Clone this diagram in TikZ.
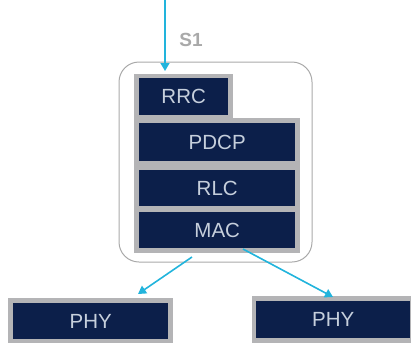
\documentclass[tikz,border=0pt]{standalone}
\usepackage{fontspec}
\setmainfont{Liberation Sans}
\usetikzlibrary{arrows.meta,calc}
\definecolor{navy}{HTML}{0C1F4A}
\definecolor{edgegrey}{HTML}{B4B4B6}
\definecolor{txt}{HTML}{C6CFDC}
\definecolor{cyanline}{HTML}{22B4DC}
\definecolor{boxline}{HTML}{A9A9A9}
\begin{document}
\begin{tikzpicture}[x=1pt,y=-1pt,
  layer/.style={fill=navy,text=txt,font=\fontsize{20.5}{20.5}\selectfont,inner sep=0pt,anchor=north west},
  backing/.style={fill=edgegrey},
  link/.style={draw=cyanline,line width=1.6pt,-{Triangle[length=8pt,width=9pt]}}]
\useasboundingbox (0,0) rectangle (411,343);
% outer rounded box
\draw[boxline,line width=1pt,rounded corners=20pt] (119,62) rectangle (312,262);
% grey backings
\fill[backing] (134,74) rectangle (233,119);
\fill[backing] (134,118) rectangle (300,253);
\fill[backing] (8,298) rectangle (173,343);
\fill[backing] (252,296) rectangle (411,343);
\node[layer,minimum width=89pt,minimum height=37pt] (rrc) at (139,78) {RRC};
\node[layer,minimum width=156pt,minimum height=38pt] (pdcp) at (139,123) {PDCP};
\node[layer,minimum width=156pt,minimum height=36pt] (rlc) at (139,170) {RLC};
\node[layer,minimum width=156pt,minimum height=36pt] (mac) at (139,212) {MAC};
\node[layer,minimum width=155pt,minimum height=36pt] (phy1) at (13,303) {PHY};
\node[layer,minimum width=154pt,minimum height=37pt] (phy2) at (256,301) {PHY};
\node[text=boxline,font=\bfseries\fontsize{19}{19}\selectfont,inner sep=0pt] (s1) at (191,40) {S1};
\coordinate (top) at (165,0);
\coordinate (toptip) at (165,71);
\coordinate (l0) at (192,257);
\coordinate (l1) at (138,294);
\coordinate (r0) at (243,249);
\coordinate (r1) at (333,297);
\draw[link] (top) -- (toptip);
\draw[link] (l0) -- (l1);
\draw[link] (r0) -- (r1);
\end{tikzpicture}
\end{document}
